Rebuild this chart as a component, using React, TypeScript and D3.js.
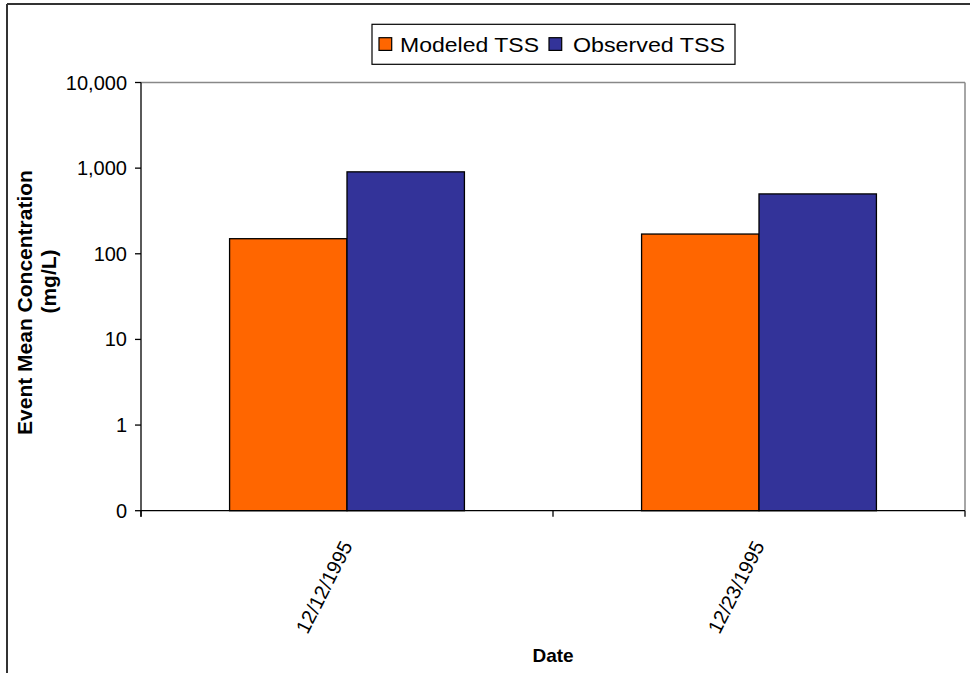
import React from "react";
import * as d3 from "d3";

const categories = ["12/12/1995", "12/23/1995"];
const seriesNames = ["Modeled TSS", "Observed TSS"];
const modeledTSS = [150, 170];
const observedTSS = [905, 500];
const yTickValues = [0.1, 1, 10, 100, 1000, 10000];
const yTickLabels = ["0", "1", "10", "100", "1,000", "10,000"];
const seriesColors = ["#FF6600", "#333399"];

const FONT = "'Liberation Sans', Arial, Helvetica, sans-serif";

export default function App() {
  const W = 970;
  const H = 673;
  const left = 141;
  const right = 965;
  const top = 82.5;
  const bottom = 510.7;

  const x = d3
    .scaleBand<string>()
    .domain(categories)
    .range([left, right])
    .paddingInner(0.43)
    .paddingOuter(0.215);
  const xs = d3
    .scaleBand<string>()
    .domain(seriesNames)
    .range([0, x.bandwidth()])
    .padding(0);
  const y = d3.scaleLog().domain([0.1, 10000]).range([bottom, top]);

  const series = [modeledTSS, observedTSS];
  const step = x.step();
  const boundaries = [left, ...categories.map((c) => (x(c) as number) + x.bandwidth() / 2 + step / 2)];

  return (
    <svg
      width={W}
      height={H}
      style={{ position: "absolute", left: 0, top: 0, background: "#fff" }}
      fontFamily={FONT}
    >
      <rect x={0} y={0} width={W} height={H} fill="#fff" />
      {/* outer chart border */}
      <line x1={7} y1={4} x2={W} y2={4} stroke="#333" strokeWidth={2} />
      <line x1={7} y1={4} x2={7} y2={H} stroke="#333" strokeWidth={2} />

      {/* plot area border (top/right) */}
      <line x1={left} y1={top} x2={right} y2={top} stroke="#888" strokeWidth={1.5} />
      <line x1={right} y1={top} x2={right} y2={bottom} stroke="#888" strokeWidth={1.5} />

      {/* bars */}
      {categories.map((c, ci) =>
        seriesNames.map((s, si) => {
          const v = series[si][ci];
          const bx = (x(c) as number) + (xs(s) as number);
          const by = y(v);
          return (
            <rect
              key={c + s}
              x={bx}
              y={by}
              width={xs.bandwidth()}
              height={bottom - by}
              fill={seriesColors[si]}
              stroke="#000"
              strokeWidth={1.3}
            />
          );
        })
      )}

      {/* y axis */}
      <line x1={left} y1={top} x2={left} y2={bottom + 6} stroke="#000" strokeWidth={1.3} />
      {yTickValues.map((t, i) => (
        <g key={t}>
          <line x1={left - 6} x2={left} y1={y(t)} y2={y(t)} stroke="#000" strokeWidth={1.3} />
          <text
            x={left - 14}
            y={y(t)}
            dy="0.35em"
            textAnchor="end"
            fontSize={20}
            fill="#000"
          >
            {yTickLabels[i]}
          </text>
        </g>
      ))}

      {/* x axis */}
      <line x1={left} y1={bottom} x2={right} y2={bottom} stroke="#000" strokeWidth={1.3} />
      {boundaries.map((bx, i) => (
        <line key={i} x1={bx} x2={bx} y1={bottom} y2={bottom + 6} stroke="#000" strokeWidth={1.3} />
      ))}
      {categories.map((c) => {
        const cx = (x(c) as number) + x.bandwidth() / 2;
        return (
          <text
            key={c}
            transform={`translate(${cx + 6},${bottom + 35}) rotate(-63)`}
            textAnchor="end"
            fontSize={20}
            fill="#000"
          >
            {c}
          </text>
        );
      })}

      {/* axis titles */}
      <text x={(left + right) / 2} y={662} textAnchor="middle" fontSize={19} fontWeight="bold" fill="#000">
        Date
      </text>
      <text
        transform={`translate(32,302.5) rotate(-90)`}
        textAnchor="middle"
        fontSize={21}
        fontWeight="bold"
        fill="#000"
      >
        Event Mean Concentration
      </text>
      <text
        transform={`translate(56,281.5) rotate(-90)`}
        textAnchor="middle"
        fontSize={21}
        fontWeight="bold"
        fill="#000"
      >
        (mg/L)
      </text>

      {/* legend */}
      <rect x={372} y={24.3} width={363} height={40} fill="#fff" stroke="#000" strokeWidth={1.2} />
      <rect x={379} y={37.7} width={12.7} height={12.7} fill={seriesColors[0]} stroke="#000" strokeWidth={1.2} />
      <text x={400} y={51.7} fontSize={20} fill="#000" textLength={139} lengthAdjust="spacingAndGlyphs">
        {seriesNames[0]}
      </text>
      <rect x={549} y={37.7} width={12.7} height={12.7} fill={seriesColors[1]} stroke="#000" strokeWidth={1.2} />
      <text x={573} y={51.7} fontSize={20} fill="#000" textLength={152} lengthAdjust="spacingAndGlyphs">
        {seriesNames[1]}
      </text>
    </svg>
  );
}
